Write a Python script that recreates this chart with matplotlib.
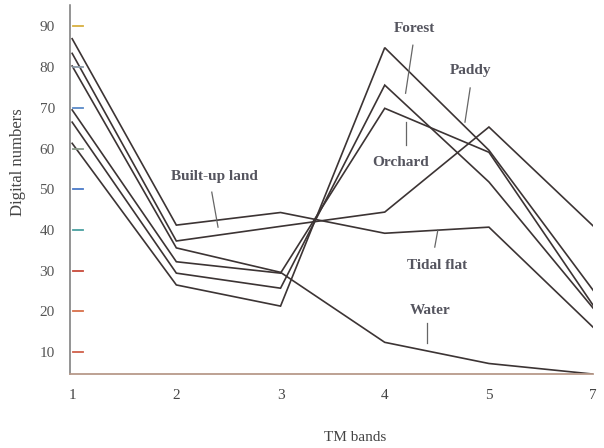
import numpy as np
import matplotlib
matplotlib.use('Agg')
import matplotlib.pyplot as plt
import matplotlib.transforms as mtransforms

# TM band spectral curves
bands = ['1', '2', '3', '4', '5', '7']
tidal_flat = [87, 41.2, 44.3, 39.2, 40.7, 16.1]
built_up = [83.4, 37.3, 40.9, 44.4, 65.3, 41.0]
water = [80.3, 35.6, 29.6, 12.4, 7.2, 4.6]
paddy = [61.3, 26.5, 21.3, 84.8, 59.6, 25.2]
forest = [66.5, 29.4, 25.7, 75.6, 51.8, 20.8]
orchard = [69.5, 32.2, 29.4, 69.9, 59.1, 21.5]

yticks = [10, 20, 30, 40, 50, 60, 70, 80, 90]
ytick_colors = ['#d0604a', '#d8704a', '#c84a3a', '#4aa0a0', '#4a7ac8',
                '#8a9a8a', '#5a8ac8', '#8a9aa8', '#d8b040']

line_color = '#3c3434'
text_color = '#55555f'

plt.rcParams['font.family'] = ['Liberation Serif', 'DejaVu Serif']

fig = plt.figure(figsize=(6.04, 4.48), dpi=100)
ax = fig.add_axes([0.116, 0.165, 0.866, 0.824])

x = np.arange(len(bands))
for series in [tidal_flat, built_up, water, paddy, forest, orchard]:
    ax.plot(x, series, color=line_color, lw=1.2, solid_joinstyle='miter')

ax.set_xlim(-0.02, 5.0)
ax.set_ylim(4.6, 95.3)

ax.set_xticks(x)
ax.set_xticklabels(bands)
ax.set_yticks(yticks)
ax.tick_params(axis='x', length=0, pad=11, labelsize=11, labelcolor='#444')
ax.tick_params(axis='y', length=0, pad=11, labelsize=11, labelcolor='#555')

# short coloured tick marks sitting just inside the axis, like the scan
trans = mtransforms.blended_transform_factory(ax.transAxes, ax.transData)
for v, c in zip(yticks, ytick_colors):
    ax.plot([0.006, 0.025], [v, v], color=c, lw=1.3, transform=trans)

for s in ['top', 'right']:
    ax.spines[s].set_visible(False)
ax.spines['left'].set_color('#777')
ax.spines['bottom'].set_color('#b89a8a')
ax.spines['left'].set_linewidth(1.1)
ax.spines['bottom'].set_linewidth(1.3)

ax.set_ylabel('Digital numbers', fontsize=12, color='#444')
ax.yaxis.set_label_coords(-0.085, 0.575)
ax.set_xlabel('TM bands', fontsize=11, color='#444')
ax.xaxis.set_label_coords(0.545, -0.155)

# curve labels with pointer lines
labels = [
    ('Forest', (3.29, 89.6), (3.27, 85.4), (3.20, 73.6)),
    ('Paddy', (3.82, 79.3), (3.82, 74.9), (3.77, 66.5)),
    ('Orchard', (3.15, 56.7), (3.20, 66.5), (3.20, 60.9)),
    ('Built-up land', (1.37, 53.2), (1.34, 49.3), (1.40, 40.7)),
    ('Tidal flat', (3.50, 31.4), (3.51, 40.0), (3.48, 35.8)),
    ('Water', (3.44, 20.1), (3.41, 17.1), (3.41, 12.2)),
]
for name, pos, p0, p1 in labels:
    ax.text(pos[0], pos[1], name, ha='center', va='center', fontsize=11,
            fontweight='bold', color=text_color)
    ax.plot([p0[0], p1[0]], [p0[1], p1[1]], color='#666', lw=0.9)

plt.savefig('out.png', dpi=100)
